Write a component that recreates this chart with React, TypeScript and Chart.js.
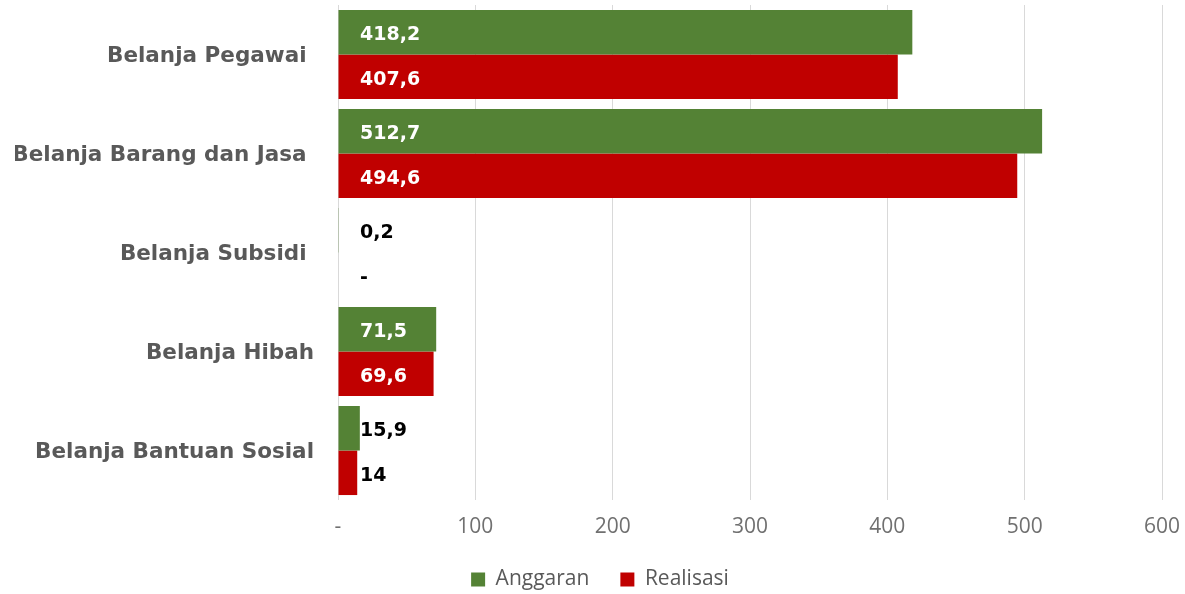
import React, { useEffect, useRef } from 'react';
import { Chart, registerables } from 'chart.js';

Chart.register(...registerables);

const categories = [
  'Belanja Pegawai ',
  'Belanja Barang dan Jasa ',
  'Belanja Subsidi ',
  'Belanja Hibah',
  'Belanja Bantuan Sosial',
];
const anggaran = [418.2, 512.7, 0.2, 71.5, 15.9];
const realisasi = [407.6, 494.6, 0, 69.6, 14];
const seriesNames = ['Anggaran', 'Realisasi'];
const seriesColors = ['#548235', '#C00000'];
const xMin = 0;
const xMax = 600;
const xStep = 100;

const fmt = (v: number) => (v === 0 ? '-' : String(v).replace('.', ','));

const valueLabels = {
  id: 'valueLabels',
  afterDatasetsDraw(chart: any) {
    const ctx = chart.ctx;
    const x0 = chart.scales.x.getPixelForValue(0);
    chart.data.datasets.forEach((ds: any, di: number) => {
      const meta = chart.getDatasetMeta(di);
      meta.data.forEach((bar: any, i: number) => {
        const v = ds.data[i] as number;
        const inside = v > 40;
        ctx.save();
        ctx.font = 'bold 19px "DejaVu Sans"';
        ctx.fillStyle = inside ? '#ffffff' : '#000000';
        ctx.textAlign = 'left';
        ctx.textBaseline = 'middle';
        ctx.fillText(fmt(v), x0 + 22, bar.y + 3);
        ctx.restore();
      });
    });
  },
};

export default function App() {
  const ref = useRef<HTMLCanvasElement | null>(null);
  useEffect(() => {
    document.body.style.margin = '0';
    const chart = new Chart(ref.current as HTMLCanvasElement, {
      type: 'bar',
      data: {
        labels: categories,
        datasets: [
          {
            label: seriesNames[0],
            data: anggaran,
            backgroundColor: seriesColors[0],
            categoryPercentage: 0.9,
            barPercentage: 1,
          },
          {
            label: seriesNames[1],
            data: realisasi,
            backgroundColor: seriesColors[1],
            categoryPercentage: 0.9,
            barPercentage: 1,
          },
        ],
      },
      options: {
        indexAxis: 'y',
        animation: false,
        responsive: true,
        maintainAspectRatio: false,
        layout: { padding: { top: 5, right: 0, left: 15, bottom: 0 } },
        plugins: {
          tooltip: { enabled: false },
          legend: {
            position: 'bottom',
            maxHeight: 56,
            labels: {
              boxWidth: 14,
              boxHeight: 14,
              padding: 31,
              color: '#595959',
              font: { family: '"Open Sans", sans-serif', size: 21 },
            },
          },
        },
        scales: {
          x: {
            min: xMin,
            max: xMax,
            ticks: {
              stepSize: xStep,
              padding: 14,
              color: '#707070',
              font: { family: '"Open Sans", sans-serif', size: 21 },
              callback: (v: any) => (Number(v) === 0 ? '-' : String(v)),
            },
            grid: { color: '#d9d9d9', lineWidth: 1, drawTicks: false },
            border: { display: false },
            afterFit: (s: any) => {
              s.height = 38;
              s.paddingLeft = 0;
              s.paddingRight = 23;
            },
          },
          y: {
            ticks: {
              padding: 24,
              labelOffset: 2,
              color: '#595959',
              font: { family: '"DejaVu Sans"', size: 21.5, weight: 'bold' },
            },
            grid: { display: false, drawTicks: false },
            border: { display: false },
            afterFit: (s: any) => {
              s.width = 323;
              s.paddingTop = 0;
              s.paddingBottom = 0;
            },
          },
        },
      },
      plugins: [valueLabels],
    } as any);
    return () => chart.destroy();
  }, []);
  return (
    <div style={{ width: 1185, height: 594, position: 'relative' }}>
      <canvas ref={ref} />
    </div>
  );
}
